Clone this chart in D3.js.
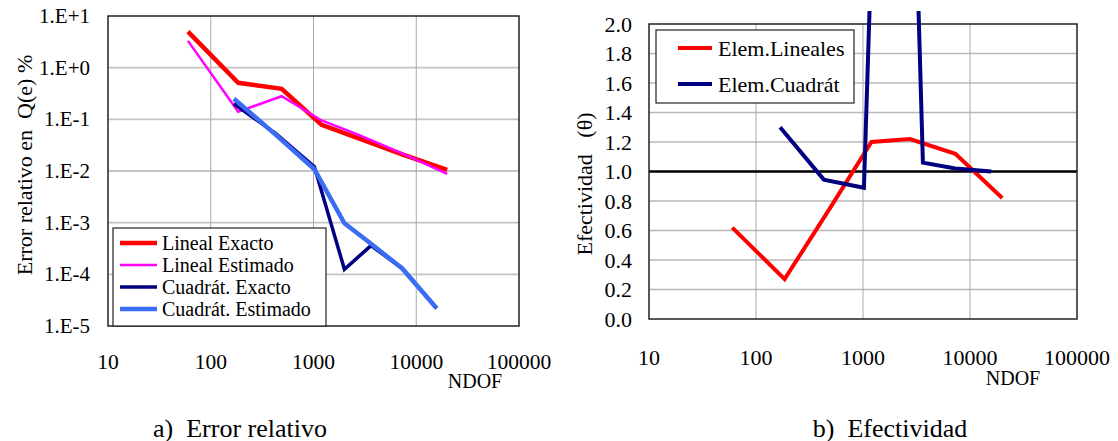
<!DOCTYPE html>
<html>
<head>
<meta charset="utf-8">
<script src="https://cdn.jsdelivr.net/npm/d3@7"></script>
<style>
  body { margin: 0; background: #fff; }
  svg, svg text { font-family: 'Liberation Serif', 'Times New Roman', Times, serif; }
</style>
</head>
<body>
<div id="chart"></div>
<script>
// --- data ---
const ndofLin = [60, 185, 490, 1200, 2750, 7300, 20000];
const errLinExact = [5.0, 0.51, 0.39, 0.078, 0.043, 0.021, 0.0105];
const errLinEst = [3.3, 0.14, 0.28, 0.095, 0.05, 0.022, 0.0088];

const ndofQuad = [168, 430, 1020, 2000, 3630, 7300, 15800];
const errQuadExact = [0.2, 0.053, 0.0121, 0.000125, 0.00036, 0.00013, 0.000022];
const errQuadEst = [0.25, 0.05, 0.0108, 0.00097, 0.00039, 0.00013, 0.000022];

const effLin = [0.62, 0.27, 0.75, 1.2, 1.22, 1.12, 0.82];
const effQuad = [1.30, 0.945, 0.89, 7.6, 1.06, 1.02, 1.0];

const xTicks = [10, 100, 1000, 10000, 100000];
const errTicks = [1e1, 1e0, 1e-1, 1e-2, 1e-3, 1e-4, 1e-5];
const errTickLabels = ['1.E+1', '1.E+0', '1.E-1', '1.E-2', '1.E-3', '1.E-4', '1.E-5'];
const effTicks = [0, 0.2, 0.4, 0.6, 0.8, 1.0, 1.2, 1.4, 1.6, 1.8, 2.0];

const width = 1118;
const height = 441;
const serif = "'Liberation Serif', 'Times New Roman', Times, serif";

const svg = d3.select('#chart')
  .append('svg')
  .attr('width', width)
  .attr('height', height)
  .attr('font-family', serif);

let toPts = (xs, ys) => xs.map((x, i) => [x, ys[i]]);

// ================= panel a =================
const a = {left: 108, top: 16, right: 519, bottom: 326};
const xA = d3.scaleLog().domain([10, 100000]).range([a.left, a.right]);
const yA = d3.scaleLog().domain([1e-5, 1e1]).range([a.bottom, a.top]);

const gA = svg.append('g').attr('id', 'panel-a');

gA.selectAll('.hgrid')
  .data(errTicks.slice(1, -1))
  .enter().append('line')
  .attr('x1', a.left).attr('x2', a.right)
  .attr('y1', d => yA(d)).attr('y2', d => yA(d))
  .attr('stroke', '#c4c4c4').attr('stroke-width', 1.8);

gA.selectAll('.vgrid')
  .data(xTicks.slice(1, -1))
  .enter().append('line')
  .attr('x1', d => xA(d)).attr('x2', d => xA(d))
  .attr('y1', a.top).attr('y2', a.bottom)
  .attr('stroke', '#a8a8a8').attr('stroke-width', 1);

gA.append('rect')
  .attr('x', a.left).attr('y', a.top)
  .attr('width', a.right - a.left).attr('height', a.bottom - a.top)
  .attr('fill', 'none').attr('stroke', '#222').attr('stroke-width', 1.5);

gA.selectAll('.ylab')
  .data(errTicks)
  .enter().append('text')
  .attr('x', 90).attr('y', d => yA(d))
  .attr('text-anchor', 'end').attr('dominant-baseline', 'central')
  .attr('font-size', 21)
  .text((d, i) => errTickLabels[i]);

gA.selectAll('.xlab')
  .data(xTicks)
  .enter().append('text')
  .attr('x', d => xA(d)).attr('y', 362)
  .attr('text-anchor', 'middle').attr('dominant-baseline', 'central')
  .attr('font-size', 21.5)
  .text(d => d);

gA.append('text')
  .attr('x', 475).attr('y', 381)
  .attr('text-anchor', 'middle').attr('dominant-baseline', 'central')
  .attr('font-size', 20)
  .text('NDOF');

gA.append('text')
  .attr('transform', `translate(${24}, ${165}) rotate(-90)`)
  .attr('text-anchor', 'middle').attr('dominant-baseline', 'central')
  .attr('font-size', 22)
  .attr('xml:space', 'preserve')
  .text('Error relativo en  Q(e) %');

gA.append('text')
  .attr('x', 240).attr('y', 428)
  .attr('text-anchor', 'middle').attr('dominant-baseline', 'central')
  .attr('font-size', 26)
  .attr('xml:space', 'preserve')
  .text('a)  Error relativo');

const lineA = d3.line().x(d => xA(d[0])).y(d => yA(d[1]));

const seriesA = [
  {name: 'Lineal Exacto', color: '#ff0000', w: 4.5, pts: toPts(ndofLin, errLinExact)},
  {name: 'Lineal Estimado', color: '#ff00ff', w: 2.5, pts: toPts(ndofLin, errLinEst)},
  {name: 'Cuadrát. Exacto', color: '#000080', w: 3.5, pts: toPts(ndofQuad, errQuadExact)},
  {name: 'Cuadrát. Estimado', color: '#3a6cf4', w: 4.5, pts: toPts(ndofQuad, errQuadEst)}
];

gA.selectAll('.serie')
  .data(seriesA)
  .enter().append('path')
  .attr('d', d => lineA(d.pts))
  .attr('fill', 'none')
  .attr('stroke', d => d.color)
  .attr('stroke-width', d => d.w)
  .attr('stroke-linejoin', 'miter');

// legend a
const legA = gA.append('g').attr('transform', `translate(${113}, ${228})`);
legA.append('rect')
  .attr('width', 213).attr('height', 98)
  .attr('fill', '#fff').attr('stroke', '#222').attr('stroke-width', 1.2);
legA.selectAll('g')
  .data(seriesA)
  .enter().append('g')
  .attr('transform', (d, i) => `translate(0, ${15 + i * 22})`)
  .each(function (d) {
    const g = d3.select(this);
    g.append('line')
      .attr('x1', 7).attr('x2', 44)
      .attr('stroke', d.color).attr('stroke-width', d.w);
    g.append('text')
      .attr('x', 49).attr('dominant-baseline', 'central')
      .attr('font-size', 20)
      .text(d.name);
  });

// ================= panel b =================
const b = {left: 649, top: 24, right: 1077, bottom: 319};
const xB = d3.scaleLog().domain([10, 100000]).range([b.left, b.right]);
const yB = d3.scaleLinear().domain([0, 2]).range([b.bottom, b.top]);

const gB = svg.append('g').attr('id', 'panel-b');

gB.selectAll('.hgrid')
  .data(effTicks.slice(1, -1))
  .enter().append('line')
  .attr('x1', b.left).attr('x2', b.right)
  .attr('y1', d => yB(d)).attr('y2', d => yB(d))
  .attr('stroke', '#b8b8b8').attr('stroke-width', 1.3);

gB.selectAll('.vgrid')
  .data(xTicks.slice(1, -1))
  .enter().append('line')
  .attr('x1', d => xB(d)).attr('x2', d => xB(d))
  .attr('y1', b.top).attr('y2', b.bottom)
  .attr('stroke', '#a8a8a8').attr('stroke-width', 1);

gB.append('line')
  .attr('x1', b.left).attr('x2', b.right)
  .attr('y1', yB(1)).attr('y2', yB(1))
  .attr('stroke', '#000').attr('stroke-width', 2.5);

gB.append('rect')
  .attr('x', b.left).attr('y', b.top)
  .attr('width', b.right - b.left).attr('height', b.bottom - b.top)
  .attr('fill', 'none').attr('stroke', '#222').attr('stroke-width', 1.5);

gB.selectAll('.ylab')
  .data(effTicks)
  .enter().append('text')
  .attr('x', 632).attr('y', d => yB(d))
  .attr('text-anchor', 'end').attr('dominant-baseline', 'central')
  .attr('font-size', 22)
  .text(d => d.toFixed(1));

gB.selectAll('.xlab')
  .data(xTicks)
  .enter().append('text')
  .attr('x', d => xB(d)).attr('y', 357)
  .attr('text-anchor', 'middle').attr('dominant-baseline', 'central')
  .attr('font-size', 22)
  .text(d => d);

gB.append('text')
  .attr('x', 1013).attr('y', 378)
  .attr('text-anchor', 'middle').attr('dominant-baseline', 'central')
  .attr('font-size', 20)
  .text('NDOF');

gB.append('text')
  .attr('transform', `translate(${584}, ${184}) rotate(-90)`)
  .attr('text-anchor', 'middle').attr('dominant-baseline', 'central')
  .attr('font-size', 22)
  .attr('xml:space', 'preserve')
  .text('Efectividad   (θ)');

gB.append('text')
  .attr('x', 890).attr('y', 428)
  .attr('text-anchor', 'middle').attr('dominant-baseline', 'central')
  .attr('font-size', 26)
  .attr('xml:space', 'preserve')
  .text('b)  Efectividad');

svg.append('clipPath').attr('id', 'clip-b')
  .append('rect')
  .attr('x', b.left).attr('y', 11)
  .attr('width', b.right - b.left).attr('height', b.bottom - 11);

const lineB = d3.line().x(d => xB(d[0])).y(d => yB(d[1]));

const seriesB = [
  {name: 'Elem.Lineales', color: '#ff0000', w: 4, pts: toPts(ndofLin, effLin)},
  {name: 'Elem.Cuadrát', color: '#000080', w: 4, pts: toPts(ndofQuad, effQuad)}
];

gB.append('g')
  .attr('clip-path', 'url(#clip-b)')
  .selectAll('path')
  .data(seriesB)
  .enter().append('path')
  .attr('d', d => lineB(d.pts))
  .attr('fill', 'none')
  .attr('stroke', d => d.color)
  .attr('stroke-width', d => d.w);

// legend b
const legB = gB.append('g').attr('transform', `translate(${656}, ${30})`);
legB.append('rect')
  .attr('width', 198).attr('height', 73)
  .attr('fill', '#fff').attr('stroke', '#222').attr('stroke-width', 1.2);
legB.selectAll('g')
  .data(seriesB)
  .enter().append('g')
  .attr('transform', (d, i) => `translate(0, ${18 + i * 36})`)
  .each(function (d) {
    const g = d3.select(this);
    g.append('line')
      .attr('x1', 22).attr('x2', 56)
      .attr('stroke', d.color).attr('stroke-width', d.w);
    g.append('text')
      .attr('x', 62).attr('dominant-baseline', 'central')
      .attr('font-size', 22)
      .text(d.name);
  });
</script>
</body>
</html>
